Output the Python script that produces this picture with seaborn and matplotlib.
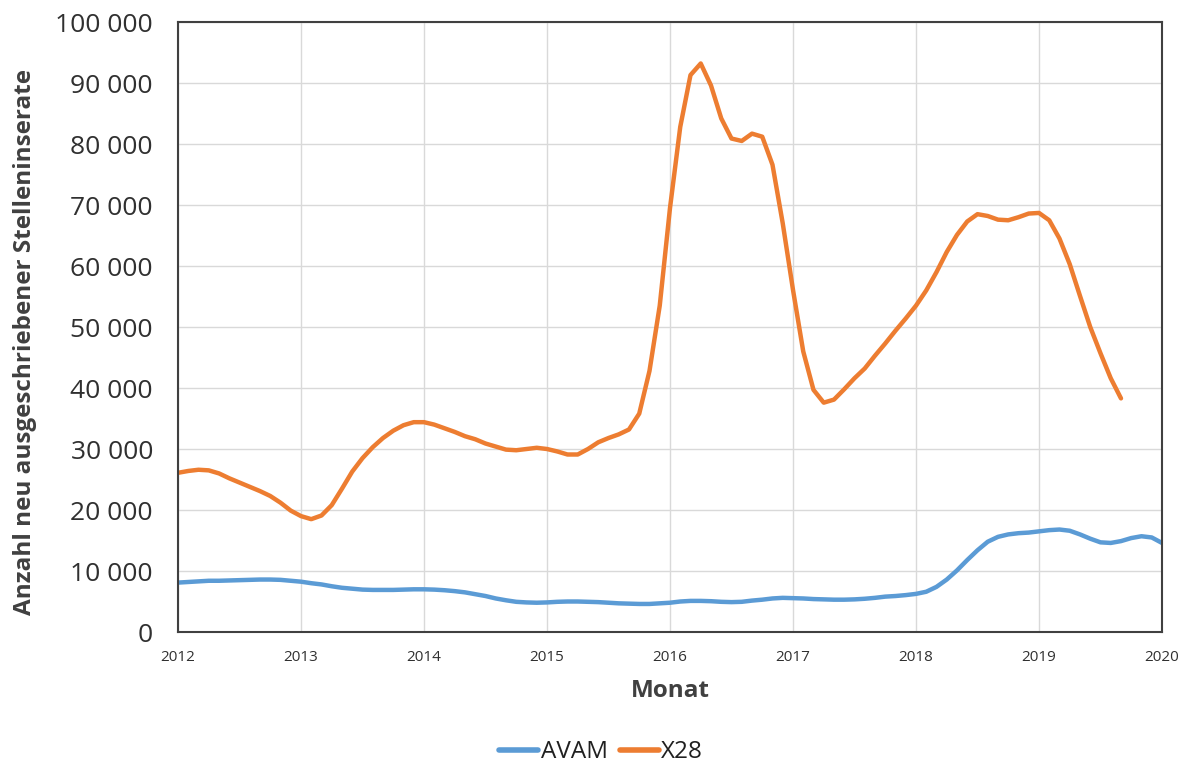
import numpy as np
import pandas as pd
import matplotlib
matplotlib.use("Agg")
import matplotlib.pyplot as plt
import seaborn as sns
from matplotlib.ticker import FuncFormatter, MultipleLocator

# Monthly values starting January 2012
avam = [8100, 8200, 8300, 8400, 8400, 8450, 8500, 8550, 8600, 8600, 8550, 8400,
        8250, 8000, 7800, 7500, 7250, 7100, 6950, 6900, 6900, 6900, 6950, 7000,
        7000, 6950, 6850, 6700, 6500, 6200, 5900, 5500, 5200, 4950, 4850, 4800,
        4850, 4950, 5000, 5000, 4950, 4900, 4800, 4700, 4650, 4600, 4600, 4700,
        4800, 5000, 5100, 5100, 5050, 4950, 4900, 4950, 5150, 5300, 5500, 5600,
        5550, 5500, 5400, 5350, 5300, 5300, 5350, 5450, 5600, 5800, 5900, 6050,
        6250, 6600, 7400, 8600, 10100, 11800, 13400, 14800, 15600, 16000, 16200, 16300,
        16500, 16700, 16800, 16600, 16000, 15300, 14700, 14600, 14900, 15400, 15700, 15500,
        14600]
x28 = [26100, 26400, 26600, 26500, 26000, 25200, 24500, 23800, 23100, 22300, 21200, 19900,
       19000, 18500, 19100, 20800, 23500, 26300, 28500, 30300, 31800, 33000, 33900, 34400,
       34400, 34000, 33400, 32800, 32100, 31600, 30900, 30400, 29900, 29800, 30000, 30200,
       30000, 29600, 29100, 29100, 30000, 31100, 31800, 32400, 33200, 35800, 42800, 53500,
       69500, 82800, 91300, 93200, 89600, 84200, 80900, 80500, 81700, 81200, 76600, 67000,
       56100, 46000, 39700, 37600, 38100, 39800, 41600, 43200, 45300, 47300, 49400, 51400,
       53500, 56000, 59000, 62300, 65100, 67300, 68500, 68200, 67600, 67500, 68000, 68600,
       68700, 67500, 64500, 60300, 55100, 50000, 45700, 41600, 38300]
series_names = ["AVAM", "X28"]
year_ticks = [2012, 2013, 2014, 2015, 2016, 2017, 2018, 2019, 2020]

frames = []
for name, vals in zip(series_names, [avam, x28]):
    months = np.arange(len(vals))
    frames.append(pd.DataFrame({"Monat": 2012 + months / 12.0,
                                "Wert": vals, "Serie": name}))
df = pd.concat(frames, ignore_index=True)

sns.set_theme(style="white")
plt.rcParams["font.family"] = ["Open Sans", "DejaVu Sans"]

fig = plt.figure(figsize=(11.93, 7.67), dpi=100)
ax = fig.add_axes([0.1492, 0.176, 0.8248, 0.7953])

sns.lineplot(data=df, x="Monat", y="Wert", hue="Serie",
             palette={"AVAM": "#5B9BD5", "X28": "#ED7D31"},
             linewidth=3.2, ax=ax, legend=True)

ax.set_xlim(2012, 2020)
ax.set_ylim(0, 100000)
ax.set_xticks(year_ticks)
ax.set_xticklabels([str(y) for y in year_ticks])
ax.yaxis.set_major_locator(MultipleLocator(10000))
ax.yaxis.set_major_formatter(FuncFormatter(lambda v, p: f"{int(v):,}".replace(",", " ")))

ax.grid(True, color="#d9d9d9", linewidth=1.0)
ax.set_axisbelow(True)
for s in ax.spines.values():
    s.set_visible(True)
    s.set_color("#404040")
    s.set_linewidth(1.5)

ax.tick_params(axis="x", which="major", direction="out", length=5, width=1.2,
               color="#202020", labelsize=11, labelcolor="#303030", pad=8)
ax.tick_params(axis="y", which="major", direction="out", length=0,
               labelsize=19, labelcolor="#303030", pad=18)

ax.set_xlabel("Monat", fontsize=17.5, fontweight="bold", color="#404040", labelpad=10)
ax.set_ylabel("Anzahl neu ausgeschriebener Stelleninserate", fontsize=17.5,
              fontweight="bold", color="#404040")
ax.yaxis.set_label_coords(-0.143, 0.475)

leg = ax.legend(loc="center", bbox_to_anchor=(0.43, -0.197), ncol=2,
                frameon=False, fontsize=17.5, handlelength=1.6, handletextpad=0.1,
                columnspacing=0.5, borderpad=0.1)
for line in leg.get_lines():
    line.set_linewidth(4)
for t in leg.get_texts():
    t.set_color("#202020")

fig.savefig("out.png", dpi=100)
